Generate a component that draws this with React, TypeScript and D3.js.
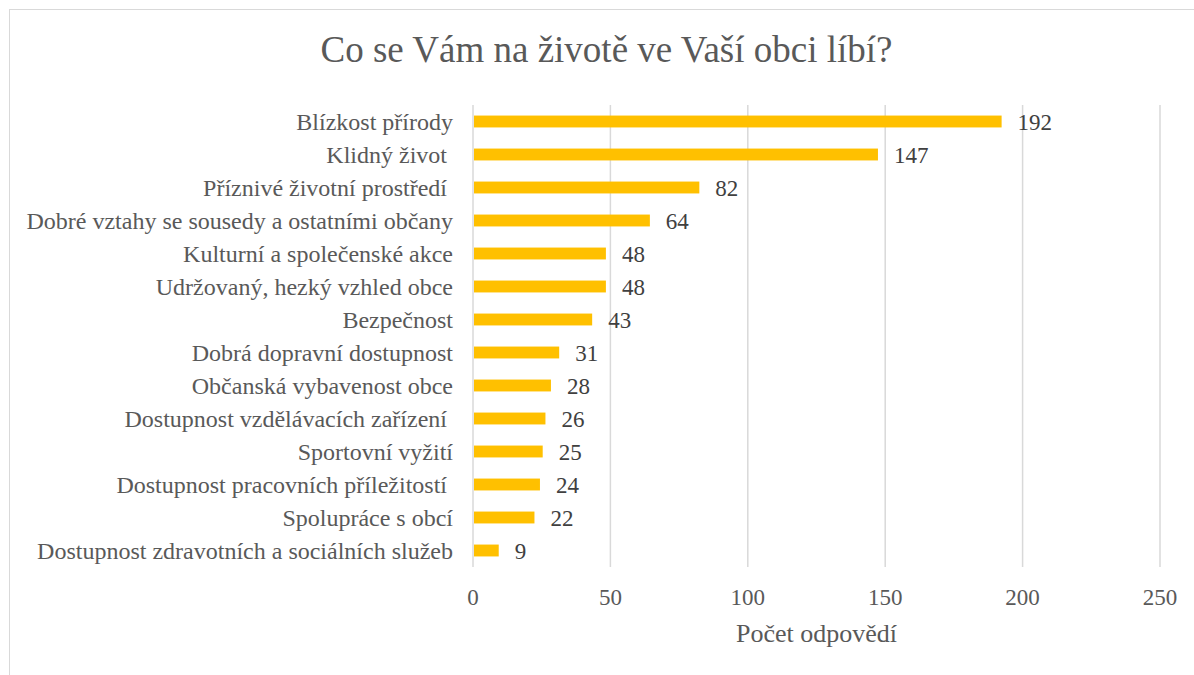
import React, { useEffect, useRef } from 'react';
import * as d3 from 'd3';

// category labels, top to bottom
const categories = [
  'Blízkost přírody',
  'Klidný život ',
  'Příznivé životní prostředí ',
  'Dobré vztahy se sousedy a ostatními občany',
  'Kulturní a společenské akce',
  'Udržovaný, hezký vzhled obce',
  'Bezpečnost',
  'Dobrá dopravní dostupnost',
  'Občanská vybavenost obce',
  'Dostupnost vzdělávacích zařízení ',
  'Sportovní vyžití',
  'Dostupnost pracovních příležitostí ',
  'Spolupráce s obcí',
  'Dostupnost zdravotních a sociálních služeb',
];
const counts = [192, 147, 82, 64, 48, 48, 43, 31, 28, 26, 25, 24, 22, 9];
const xTicks = [0, 50, 100, 150, 200, 250];

const title = 'Co se Vám na životě ve Vaší obci líbí?';
const xTitle = 'Počet odpovědí';

const App = () => {
  const ref = useRef<SVGSVGElement>(null);

  useEffect(() => {
    const width = 1194;
    const height = 675;
    const margin = { top: 105, right: 34, bottom: 108, left: 473 };
    const font = "'Liberation Serif', 'Times New Roman', 'DejaVu Serif', serif";

    const svg = d3.select(ref.current);
    svg.selectAll('*').remove();
    svg.style('font-family', font);

    // outer chart frame
    svg.append('rect')
      .attr('x', 9.5).attr('y', 9.5)
      .attr('width', width).attr('height', height)
      .attr('fill', '#fff')
      .attr('stroke', '#d9d9d9');

    const x = d3.scaleLinear()
      .domain([0, 250])
      .range([margin.left, width - margin.right]);

    const y = d3.scaleBand()
      .domain(categories)
      .range([margin.top, height - margin.bottom])
      .paddingInner(0.64)
      .paddingOuter(0.32);

    // gridlines
    svg.append('g')
      .selectAll('line')
      .data(xTicks)
      .join('line')
      .attr('x1', d => x(d)).attr('x2', d => x(d))
      .attr('y1', margin.top).attr('y2', height - margin.bottom)
      .attr('stroke', '#d9d9d9')
      .attr('stroke-width', 1.5);

    // bars
    svg.append('g')
      .selectAll('rect')
      .data(counts)
      .join('rect')
      .attr('x', x(0) + 1)
      .attr('y', (d, i) => y(categories[i])!)
      .attr('width', d => x(d) - x(0))
      .attr('height', y.bandwidth())
      .attr('fill', '#ffc000');

    // value labels
    svg.append('g')
      .selectAll('text')
      .data(counts)
      .join('text')
      .attr('x', d => x(d) + 17)
      .attr('y', (d, i) => y(categories[i])! + y.bandwidth() / 2)
      .attr('dy', '0.35em')
      .style('font-size', '23px')
      .attr('fill', '#404040')
      .text(d => d);

    // category labels
    svg.append('g')
      .selectAll('text')
      .data(categories)
      .join('text')
      .attr('x', margin.left - 20)
      .attr('y', d => y(d)! + y.bandwidth() / 2)
      .attr('dy', '0.35em')
      .attr('text-anchor', 'end')
      .style('font-size', '24px')
      .attr('fill', '#595959')
      .style('white-space', 'pre')
      .text(d => d);

    // x tick labels
    svg.append('g')
      .selectAll('text')
      .data(xTicks)
      .join('text')
      .attr('x', d => x(d))
      .attr('y', 605)
      .attr('text-anchor', 'middle')
      .style('font-size', '23px')
      .attr('fill', '#595959')
      .text(d => d);

    // axis title
    svg.append('text')
      .attr('x', (x(0) + x(250)) / 2)
      .attr('y', 642)
      .attr('text-anchor', 'middle')
      .style('font-size', '26px')
      .attr('fill', '#595959')
      .text(xTitle);

    // chart title
    svg.append('text')
      .attr('x', 606.5)
      .attr('y', 62)
      .attr('text-anchor', 'middle')
      .style('font-size', '37px')
      .attr('fill', '#595959')
      .text(title);
  }, []);

  return (
    <svg
      ref={ref}
      width={1194}
      height={675}
      style={{ position: 'absolute', left: 0, top: 0 }}
    />
  );
};

export default App;
